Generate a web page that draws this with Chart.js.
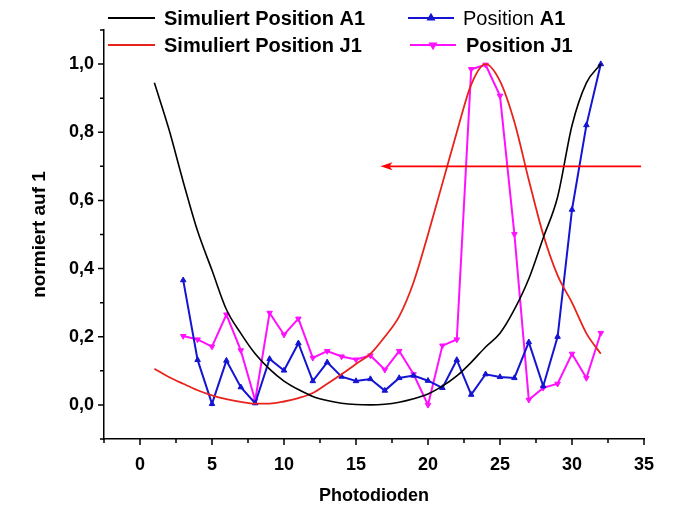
<!DOCTYPE html>
<html><head><meta charset="utf-8">
<script src="https://cdn.jsdelivr.net/npm/chart.js@4/dist/chart.umd.min.js"></script>
<style>html,body{margin:0;padding:0;background:#fff}#wrap{width:673px;height:519px}</style>
</head><body><div id="wrap"><canvas id="c" width="673" height="519"></canvas></div>
<script>
// ---- data ----
const diodes = [1,2,3,4,5,6,7,8,9,10,11,12,13,14,15,16,17,18,19,20,21,22,23,24,25,26,27,28,29,30,31,32];
const simA1 = [0.945,0.81,0.655,0.51,0.395,0.28,0.21,0.15,0.105,0.07,0.045,0.025,0.013,0.005,0.001,0.0,0.002,0.008,0.018,0.032,0.055,0.085,0.125,0.17,0.21,0.28,0.37,0.49,0.61,0.82,0.945,1.0];
const simJ1 = [0.106,0.082,0.062,0.043,0.028,0.017,0.009,0.004,0.004,0.01,0.02,0.035,0.062,0.09,0.12,0.15,0.2,0.26,0.36,0.5,0.65,0.8,0.94,1.0,0.95,0.83,0.66,0.5,0.38,0.3,0.21,0.15];
const measDiodes = [3,4,5,6,7,8,9,10,11,12,13,14,15,16,17,18,19,20,21,22,23,24,25,26,27,28,29,30,31,32];
const posA1 = [0.366,0.132,0.003,0.13,0.052,0.005,0.135,0.101,0.181,0.07,0.125,0.083,0.07,0.076,0.042,0.079,0.086,0.071,0.05,0.132,0.03,0.09,0.082,0.079,0.184,0.055,0.2,0.573,0.821,1.0];
const posJ1 = [0.202,0.192,0.171,0.265,0.16,0.013,0.27,0.206,0.253,0.138,0.158,0.142,0.133,0.145,0.103,0.158,0.09,0.0,0.174,0.192,0.985,0.998,0.907,0.501,0.015,0.05,0.062,0.15,0.079,0.211];
const arrowX = [34.8,16.7];
const arrowY = [0.7,0.7];
const xTicks = [0,5,10,15,20,25,30,35];
const yTicks = [0,0.2,0.4,0.6,0.8,1.0];
const seriesNames = ['Simuliert Position A1','Position A1','Simuliert Position J1','Position J1'];

const FONT = "'Liberation Sans', Arial, Helvetica, sans-serif";
const pts = (xs, ys) => xs.map((x,i)=>({x:x, y:ys[i]}));
const BLUE = '#1414d2', MAG = '#ff10ff', RED = '#e8231c';

const tickPlugin = {
  id:'ticks',
  afterDraw(chart){
    const {ctx, chartArea:a} = chart; const x = chart.scales.x, y = chart.scales.y;
    ctx.save(); ctx.strokeStyle='#000'; ctx.lineWidth=1.5; ctx.beginPath();
    for (let k=-1;k<=14;k++){ const px=x.getPixelForValue(k*2.5); const len=(k%2===0)?6:4; ctx.moveTo(px,a.bottom); ctx.lineTo(px,a.bottom+len); }
    for (let k=-1;k<=11;k++){ const py=y.getPixelForValue(k/10); const len=(k%2===0)?6:4; ctx.moveTo(a.left,py); ctx.lineTo(a.left-len,py); }
    ctx.stroke(); ctx.restore();
  }
};

const arrowPlugin = {
  id:'arrow',
  afterDatasetsDraw(chart){
    const {ctx} = chart; const x = chart.scales.x, y = chart.scales.y;
    const x0=x.getPixelForValue(arrowX[0]), y0=y.getPixelForValue(arrowY[0]);
    const x1=x.getPixelForValue(arrowX[1]), y1=y.getPixelForValue(arrowY[1]);
    ctx.save(); ctx.strokeStyle='#ff0000'; ctx.fillStyle='#ff0000'; ctx.lineWidth=1.6;
    ctx.beginPath(); ctx.moveTo(x0,y0); ctx.lineTo(x1+8,y1); ctx.stroke();
    ctx.beginPath(); ctx.moveTo(x1,y1); ctx.lineTo(x1+12,y1-4); ctx.lineTo(x1+9,y1); ctx.lineTo(x1+12,y1+4); ctx.closePath(); ctx.fill();
    ctx.restore();
  }
};

const legendPlugin = {
  id:'leg',
  afterDraw(chart){
    const ctx = chart.ctx; const H = Chart.helpers;
    ctx.save(); ctx.textBaseline='middle'; ctx.fillStyle='#000';
    const row = (yy, color, lx0, lx1, marker, rot) => {
      ctx.strokeStyle=color; ctx.lineWidth=2; ctx.beginPath(); ctx.moveTo(lx0,yy); ctx.lineTo(lx1,yy); ctx.stroke();
      if (marker){ ctx.fillStyle=color; H.drawPoint(ctx,{pointStyle:'triangle',radius:3.2,rotation:rot,borderWidth:1},(lx0+lx1)/2,yy); ctx.fill(); ctx.fillStyle='#000'; }
    };
    row(18,'#000',108,155,false,0);
    ctx.font='bold 20px '+FONT; ctx.fillText(seriesNames[0],164,19);
    row(18,BLUE,408,454,true,0);
    ctx.font='20px '+FONT; const w = ctx.measureText('Position ').width; ctx.fillText('Position ',463,19);
    ctx.font='bold 20px '+FONT; ctx.fillText('A1',463+w,19);
    row(45,RED,108,155,false,0);
    ctx.font='bold 20px '+FONT; ctx.fillText(seriesNames[2],164,46);
    row(45,MAG,410,456,true,180);
    ctx.font='bold 20px '+FONT; ctx.fillText(seriesNames[3],466,46);
    ctx.restore();
  }
};

const tickFont = {family:FONT,size:18,weight:'bold'};
new Chart(document.getElementById('c'), {
  type:'line',
  data:{datasets:[
    {label:seriesNames[0], data:pts(diodes,simA1), borderColor:'#000', borderWidth:1.6, pointRadius:0, cubicInterpolationMode:'monotone'},
    {label:seriesNames[2], data:pts(diodes,simJ1), borderColor:RED, borderWidth:1.8, pointRadius:0, cubicInterpolationMode:'monotone'},
    {label:seriesNames[1], data:pts(measDiodes,posA1), borderColor:BLUE, backgroundColor:BLUE, borderWidth:2, pointStyle:'triangle', pointRadius:3.2, pointBorderWidth:1, tension:0},
    {label:seriesNames[3], data:pts(measDiodes,posJ1), borderColor:MAG, backgroundColor:MAG, borderWidth:2, pointStyle:'triangle', pointRotation:180, pointRadius:3.2, pointBorderWidth:1, tension:0}
  ]},
  options:{
    responsive:false, animation:false, devicePixelRatio:1,
    layout:{padding:{top:30,right:29,left:0,bottom:0}},
    plugins:{legend:{display:false}, tooltip:{enabled:false}},
    scales:{
      x:{type:'linear', min:-2.5, max:35,
        afterBuildTicks:s=>{s.ticks = xTicks.map(v=>({value:v}));},
        afterFit:s=>{s.height=80;},
        grid:{display:false, drawTicks:false},
        border:{display:true,color:'#000',width:1.5},
        ticks:{font:tickFont,color:'#000',padding:15,maxRotation:0,autoSkip:false,callback:v=>String(v)},
        title:{display:true,text:'Photodioden',font:{family:FONT,size:18,weight:'bold'},color:'#000',padding:{top:0,bottom:12}}
      },
      y:{type:'linear', min:-0.1, max:1.1,
        afterBuildTicks:s=>{s.ticks = yTicks.map(v=>({value:v}));},
        afterFit:s=>{s.width=104;},
        grid:{display:false, drawTicks:false},
        border:{display:true,color:'#000',width:1.5},
        ticks:{font:tickFont,color:'#000',padding:10,autoSkip:false,callback:v=>v.toFixed(1).replace('.',',')},
        title:{display:true,text:'normiert auf 1',font:{family:FONT,size:19,weight:'bold'},color:'#000',padding:{top:28,bottom:0}}
      }
    }
  },
  plugins:[tickPlugin, arrowPlugin, legendPlugin]
});
</script></body></html>
